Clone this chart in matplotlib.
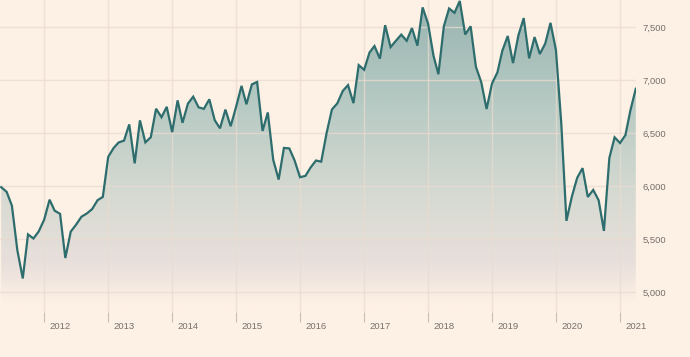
import numpy as np
import pandas as pd
import matplotlib
matplotlib.use("Agg")
import matplotlib.pyplot as plt
import matplotlib.dates as mdates
import matplotlib.transforms as mtransforms
from matplotlib.colors import LinearSegmentedColormap

# month-end closes, plotted at the first day of each month
start_month = "2011-05-01"
values = [
    5990, 5946, 5815, 5395, 5128, 5544, 5505, 5572,                          # 2011
    5682, 5872, 5768, 5738, 5321, 5571, 5635, 5711, 5742, 5783, 5867, 5898,  # 2012
    6277, 6361, 6412, 6430, 6583, 6215, 6621, 6413, 6462, 6731, 6651, 6749,  # 2013
    6510, 6810, 6598, 6780, 6845, 6744, 6730, 6820, 6623, 6546, 6723, 6566,  # 2014
    6749, 6947, 6773, 6961, 6984, 6521, 6696, 6248, 6062, 6361, 6356, 6242,  # 2015
    6084, 6097, 6175, 6242, 6231, 6504, 6724, 6782, 6899, 6954, 6784, 7143,  # 2016
    7099, 7263, 7323, 7204, 7520, 7313, 7372, 7431, 7373, 7493, 7327, 7688,  # 2017
    7534, 7232, 7057, 7509, 7678, 7637, 7749, 7432, 7510, 7128, 6980, 6728,  # 2018
    6969, 7075, 7279, 7418, 7162, 7426, 7587, 7207, 7408, 7248, 7347, 7542,  # 2019
    7286, 6581, 5672, 5901, 6077, 6170, 5898, 5964, 5866, 5577, 6266, 6461,  # 2020
    6407, 6483, 6714, 6920,                                                  # 2021
]
year_ticks = list(range(2012, 2022))
y_ticks = [5000, 5500, 6000, 6500, 7000, 7500]

BG = "#fdf0e5"
LINE = "#2d6d6d"
GRID = "#eadbcf"
TEXT = "#75706b"

plt.rcParams["font.family"] = ["Liberation Sans", "DejaVu Sans"]

dates = pd.date_range(start_month, periods=len(values), freq="MS")
x = mdates.date2num(dates)
v = np.array(values, dtype=float)

fig = plt.figure(figsize=(6.9, 3.57), dpi=100, facecolor=BG)
ax = fig.add_axes([0, 0.126, 0.9217, 0.874])
ax.set_facecolor(BG)

x0 = mdates.date2num(pd.Timestamp("2011-04-24"))
x1 = mdates.date2num(pd.Timestamp("2021-04-02"))
y0, y1 = 4811, 7758

# gradient fill under the line, fixed to the axes height
cmap = LinearSegmentedColormap.from_list(
    "ftfill",
    [(0.0, "#98b4b1"), (0.35, "#b8cbc4"), (0.65, "#d8dbd3"),
     (0.84, "#e8dfdb"), (0.97, BG), (1.0, BG)],
)
grad = np.linspace(0, 1, 256).reshape(-1, 1)
im = ax.imshow(grad, cmap=cmap, aspect="auto", extent=[x0, x1, y0, y1],
               origin="upper", zorder=1, interpolation="bicubic")
poly = ax.fill_between(x, v, y0, color="none", lw=0)
im.set_clip_path(poly.get_paths()[0], transform=ax.transData)

ax.plot(x, v, color=LINE, lw=1.6, zorder=4, solid_joinstyle="miter")

ax.set_xlim(x0, x1)
ax.set_ylim(y0, y1)

for s in ax.spines.values():
    s.set_visible(False)

# grid
ax.set_yticks(y_ticks)
ax.set_yticklabels([f"{t:,}" for t in y_ticks])
ax.set_xticks(mdates.date2num([pd.Timestamp(f"{y}-01-01") for y in year_ticks]))
ax.set_xticklabels([str(y) for y in year_ticks])
ax.grid(True, color=GRID, lw=1, alpha=0.75, zorder=2)
ax.set_axisbelow(False)
for gl in ax.get_xgridlines() + ax.get_ygridlines():
    gl.set_zorder(2)

ax.yaxis.tick_right()
ax.tick_params(axis="y", length=0, pad=5, labelsize=6.8, labelcolor=TEXT)
ax.tick_params(axis="x", direction="out", length=7.5, width=0.8, color="#c9bdb2",
               pad=0, labelsize=6.8, labelcolor=TEXT)

offset = mtransforms.ScaledTranslation(4 / 72, 0, fig.dpi_scale_trans)
for lab in ax.get_xticklabels():
    lab.set_ha("left")
    lab.set_transform(lab.get_transform() + offset)

fig.savefig("out.png", dpi=100, facecolor=BG)
